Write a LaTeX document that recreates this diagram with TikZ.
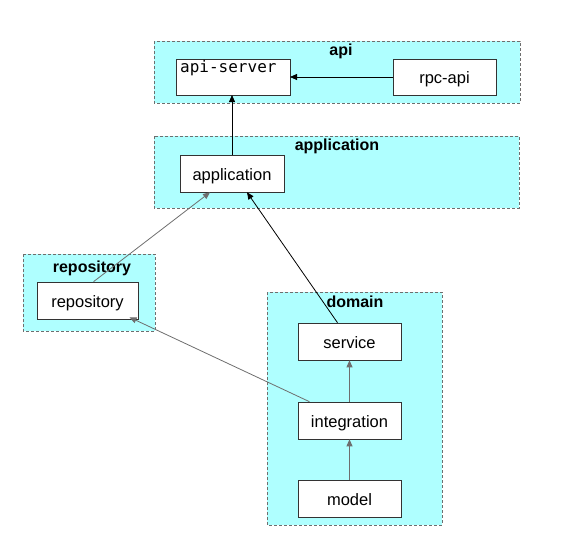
\documentclass[tikz,border=0pt]{standalone}
\usepackage{fontspec}
\setmainfont{Liberation Sans}
\newfontfamily\monof{DejaVu Sans Mono}
\usetikzlibrary{arrows.meta}
\definecolor{clfill}{RGB}{175,255,255}
\definecolor{clline}{RGB}{110,110,110}
\definecolor{grayarr}{RGB}{110,110,110}
\begin{document}
\begin{tikzpicture}[x=1pt,y=-1pt,
  cluster/.style={draw=clline,dashed,fill=clfill,line width=0.6pt,dash pattern=on 3pt off 2pt},
  clabel/.style={font=\bfseries\fontsize{16}{16}\selectfont,inner sep=0pt,anchor=base},
  box/.style={draw=black!80,fill=white,line width=0.6pt},
  btext/.style={font=\fontsize{16.5}{17}\selectfont,inner sep=0pt,text height=17pt,text depth=4pt},
  blk/.style={-{Triangle[length=7pt,width=6pt]},line width=0.8pt,black},
  gry/.style={-{Triangle[length=7pt,width=6pt]},line width=0.8pt,grayarr}]
\useasboundingbox (0,0) rectangle (581,555);
% clusters
\draw[cluster] (154,41) rectangle (520,103);
\node[clabel] (lapi) at (341,55.5) {api};
\draw[cluster] (154,136) rectangle (519,208);
\node[clabel] (lapp) at (337,150.5) {application};
\draw[cluster] (23,254) rectangle (155,331);
\node[clabel] (lrep) at (92,272) {repository};
\draw[cluster] (267,292) rectangle (442,525);
\node[clabel] (ldom) at (355,307) {domain};
% boxes
\draw[box] (176,59) rectangle (290,95); \coordinate (as) at (233,77);
\node[font=\monof\fontsize{16}{16}\selectfont,inner sep=0pt,anchor=base west] (astxt) at (180,72.5) {api-server};
\node[box,minimum width=103pt,minimum height=36pt,btext] (rpc) at (444.5,77) {rpc-api};
\node[box,minimum width=104pt,minimum height=37pt,btext] (app) at (232,173.5) {application};
\node[box,minimum width=101pt,minimum height=37pt,btext] (repo) at (87.5,300.5) {repository};
\node[box,minimum width=103pt,minimum height=37pt,btext] (svc) at (349.5,341.5) {service};
\node[box,minimum width=103pt,minimum height=37pt,btext] (integ) at (349.5,420.5) {integration};
\node[box,minimum width=103pt,minimum height=37pt,btext] (model) at (349.5,498.5) {model};
\coordinate (asE) at (290,77);
\coordinate (asS) at (232,95);
% edges
\draw[blk] (rpc.west) -- (asE);
\draw[blk] (app.north -| asS) -- (asS);
\draw[blk] ([xshift=-12pt]svc.north) -- ([xshift=15pt]app.south);
\draw[gry] ([xshift=6pt]repo.north) -- ([xshift=-22pt]app.south);
\draw[gry] ([xshift=-40pt]integ.north) -- ([xshift=42pt,yshift=2pt]repo.south);
\draw[gry] (model.north) -- (integ.south);
\draw[gry] (integ.north) -- (svc.south);
\end{tikzpicture}
\end{document}
